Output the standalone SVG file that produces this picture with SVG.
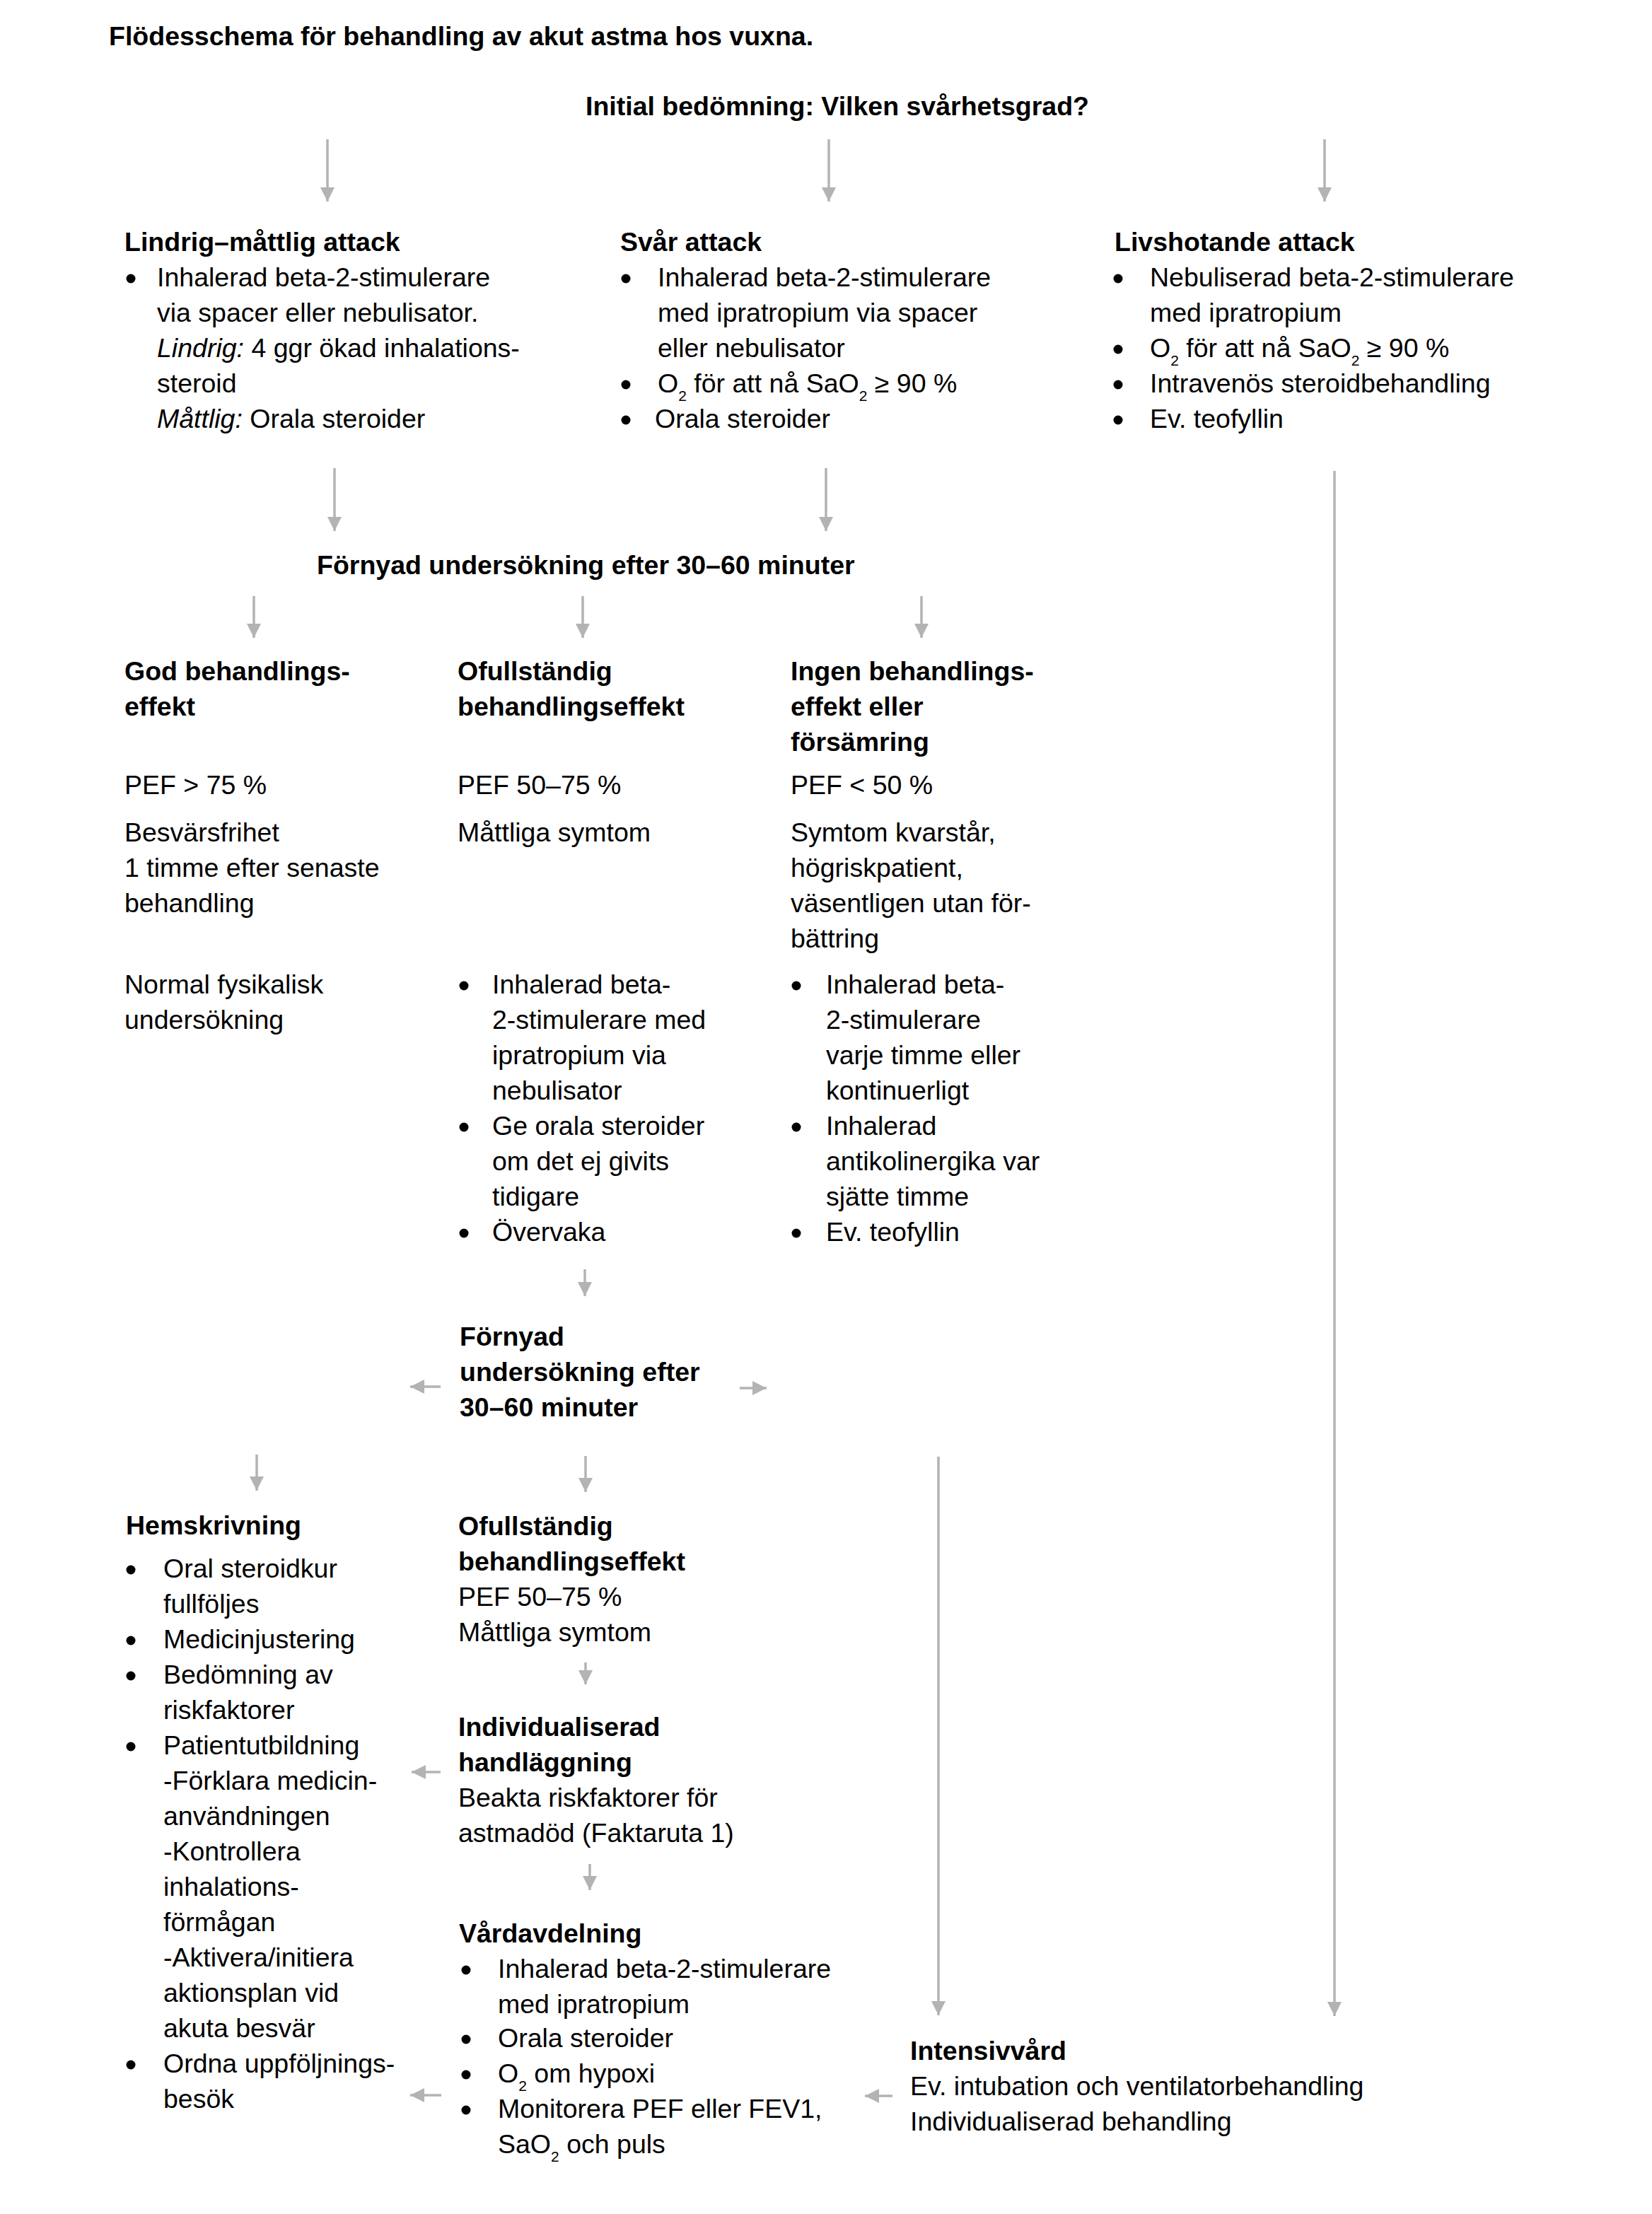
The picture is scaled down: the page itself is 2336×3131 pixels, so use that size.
<svg xmlns="http://www.w3.org/2000/svg" width="2336" height="3131" viewBox="0 0 2336 3131">
  <style>
    text { font-family: "Liberation Sans", Arial, Helvetica, sans-serif; font-size: 37.5px; fill: #000; }
    .b { font-weight: bold; }
    .i { font-style: italic; }
    .sub { font-size: 21px; }
    .dot { fill: #000; }
    .conn line { stroke: #b3b3b3; stroke-width: 3.5; fill: none; marker-end: url(#head); }
  </style>
  <defs>
    <marker id="head" markerUnits="userSpaceOnUse" markerWidth="20" markerHeight="20" refX="20" refY="10" orient="auto">
      <path d="M0,0 L20,10 L0,20 z" fill="#b3b3b3"/>
    </marker>
  </defs>
  <rect width="2336" height="3131" fill="#fff"/>

  <!-- title -->
  <text id="title" class="b" x="154" y="64">Flödesschema för behandling av akut astma hos vuxna.</text>

  <!-- start question -->
  <g id="initial">
    <text class="b" x="828" y="163">Initial bedömning: Vilken svårhetsgrad?</text>
  </g>

  <!-- severity: mild-moderate -->
  <g id="lindrig">
    <text class="b" x="176" y="355">Lindrig–måttlig attack</text>
    <circle class="dot" cx="185" cy="394" r="6.5"/>
    <text x="222" y="405">Inhalerad beta-2-stimulerare</text>
    <text x="222" y="455">via spacer eller nebulisator.</text>
    <text x="222" y="505"><tspan class="i">Lindrig:</tspan> 4 ggr ökad inhalations-</text>
    <text x="222" y="555">steroid</text>
    <text x="222" y="605"><tspan class="i">Måttlig:</tspan> Orala steroider</text>
  </g>

  <!-- severity: severe -->
  <g id="svar">
    <text class="b" x="877" y="355">Svår attack</text>
    <circle class="dot" cx="885" cy="394" r="6.5"/>
    <text x="930" y="405">Inhalerad beta-2-stimulerare</text>
    <text x="930" y="455">med ipratropium via spacer</text>
    <text x="930" y="505">eller nebulisator</text>
    <circle class="dot" cx="885" cy="544" r="6.5"/>
    <text x="930" y="555">O<tspan class="sub" dy="12">2</tspan><tspan dy="-12"> för att nå SaO</tspan><tspan class="sub" dy="12">2</tspan><tspan dy="-12"> ≥ 90 %</tspan></text>
    <circle class="dot" cx="885" cy="594" r="6.5"/>
    <text x="926" y="605">Orala steroider</text>
  </g>

  <!-- severity: life-threatening -->
  <g id="livshotande">
    <text class="b" x="1576" y="355">Livshotande attack</text>
    <circle class="dot" cx="1581" cy="394" r="6.5"/>
    <text x="1626" y="405">Nebuliserad beta-2-stimulerare</text>
    <text x="1626" y="455">med ipratropium</text>
    <circle class="dot" cx="1581" cy="494" r="6.5"/>
    <text x="1626" y="505">O<tspan class="sub" dy="12">2</tspan><tspan dy="-12"> för att nå SaO</tspan><tspan class="sub" dy="12">2</tspan><tspan dy="-12"> ≥ 90 %</tspan></text>
    <circle class="dot" cx="1581" cy="544" r="6.5"/>
    <text x="1626" y="555">Intravenös steroidbehandling</text>
    <circle class="dot" cx="1581" cy="594" r="6.5"/>
    <text x="1626" y="605">Ev. teofyllin</text>
  </g>

  <!-- reassessment -->
  <g id="fornyad1">
    <text class="b" x="448" y="812">Förnyad undersökning efter 30–60 minuter</text>
  </g>

  <!-- good response -->
  <g id="god">
    <text class="b" x="176" y="962">God behandlings-</text>
    <text class="b" x="176" y="1012">effekt</text>
    <text x="176" y="1123">PEF &gt; 75 %</text>
    <text x="176" y="1190">Besvärsfrihet</text>
    <text x="176" y="1240">1 timme efter senaste</text>
    <text x="176" y="1290">behandling</text>
    <text x="176" y="1405">Normal fysikalisk</text>
    <text x="176" y="1455">undersökning</text>
  </g>

  <!-- incomplete response -->
  <g id="ofullstandig1">
    <text class="b" x="647" y="962">Ofullständig</text>
    <text class="b" x="647" y="1012">behandlingseffekt</text>
    <text x="647" y="1123">PEF 50–75 %</text>
    <text x="647" y="1190">Måttliga symtom</text>
    <circle class="dot" cx="656" cy="1394" r="6.5"/>
    <text x="696" y="1405">Inhalerad beta-</text>
    <text x="696" y="1455">2-stimulerare med</text>
    <text x="696" y="1505">ipratropium via</text>
    <text x="696" y="1555">nebulisator</text>
    <circle class="dot" cx="656" cy="1594" r="6.5"/>
    <text x="696" y="1605">Ge orala steroider</text>
    <text x="696" y="1655">om det ej givits</text>
    <text x="696" y="1705">tidigare</text>
    <circle class="dot" cx="656" cy="1744" r="6.5"/>
    <text x="696" y="1755">Övervaka</text>
  </g>

  <!-- no response -->
  <g id="ingen">
    <text class="b" x="1118" y="962">Ingen behandlings-</text>
    <text class="b" x="1118" y="1012">effekt eller</text>
    <text class="b" x="1118" y="1062">försämring</text>
    <text x="1118" y="1123">PEF &lt; 50 %</text>
    <text x="1118" y="1190">Symtom kvarstår,</text>
    <text x="1118" y="1240">högriskpatient,</text>
    <text x="1118" y="1290">väsentligen utan för-</text>
    <text x="1118" y="1340">bättring</text>
    <circle class="dot" cx="1126" cy="1394" r="6.5"/>
    <text x="1168" y="1405">Inhalerad beta-</text>
    <text x="1168" y="1455">2-stimulerare</text>
    <text x="1168" y="1505">varje timme eller</text>
    <text x="1168" y="1555">kontinuerligt</text>
    <circle class="dot" cx="1126" cy="1594" r="6.5"/>
    <text x="1168" y="1605">Inhalerad</text>
    <text x="1168" y="1655">antikolinergika var</text>
    <text x="1168" y="1705">sjätte timme</text>
    <circle class="dot" cx="1126" cy="1744" r="6.5"/>
    <text x="1168" y="1755">Ev. teofyllin</text>
  </g>

  <!-- second reassessment -->
  <g id="fornyad2">
    <text class="b" x="650" y="1903">Förnyad</text>
    <text class="b" x="650" y="1953">undersökning efter</text>
    <text class="b" x="650" y="2003">30–60 minuter</text>
  </g>

  <!-- discharge -->
  <g id="hemskrivning">
    <text class="b" x="178" y="2170">Hemskrivning</text>
    <circle class="dot" cx="185" cy="2220" r="6.5"/>
    <text x="231" y="2231">Oral steroidkur</text>
    <text x="231" y="2281">fullföljes</text>
    <circle class="dot" cx="185" cy="2320" r="6.5"/>
    <text x="231" y="2331">Medicinjustering</text>
    <circle class="dot" cx="185" cy="2370" r="6.5"/>
    <text x="231" y="2381">Bedömning av</text>
    <text x="231" y="2431">riskfaktorer</text>
    <circle class="dot" cx="185" cy="2470" r="6.5"/>
    <text x="231" y="2481">Patientutbildning</text>
    <text x="231" y="2531">-Förklara medicin-</text>
    <text x="231" y="2581">användningen</text>
    <text x="231" y="2631">-Kontrollera</text>
    <text x="231" y="2681">inhalations-</text>
    <text x="231" y="2731">förmågan</text>
    <text x="231" y="2781">-Aktivera/initiera</text>
    <text x="231" y="2831">aktionsplan vid</text>
    <text x="231" y="2881">akuta besvär</text>
    <circle class="dot" cx="185" cy="2920" r="6.5"/>
    <text x="231" y="2931">Ordna uppföljnings-</text>
    <text x="231" y="2981">besök</text>
  </g>

  <!-- incomplete response, second time -->
  <g id="ofullstandig2">
    <text class="b" x="648" y="2171">Ofullständig</text>
    <text class="b" x="648" y="2221">behandlingseffekt</text>
    <text x="648" y="2271">PEF 50–75 %</text>
    <text x="648" y="2321">Måttliga symtom</text>
  </g>

  <!-- individual management -->
  <g id="individualiserad">
    <text class="b" x="648" y="2455">Individualiserad</text>
    <text class="b" x="648" y="2505">handläggning</text>
    <text x="648" y="2555">Beakta riskfaktorer för</text>
    <text x="648" y="2605">astmadöd (Faktaruta 1)</text>
  </g>

  <!-- ward -->
  <g id="vardavdelning">
    <text class="b" x="649" y="2747">Vårdavdelning</text>
    <circle class="dot" cx="659" cy="2786" r="6.5"/>
    <text x="704" y="2797">Inhalerad beta-2-stimulerare</text>
    <text x="704" y="2847">med ipratropium</text>
    <circle class="dot" cx="659" cy="2884" r="6.5"/>
    <text x="704" y="2895">Orala steroider</text>
    <circle class="dot" cx="659" cy="2934" r="6.5"/>
    <text x="704" y="2945">O<tspan class="sub" dy="12">2</tspan><tspan dy="-12"> om hypoxi</tspan></text>
    <circle class="dot" cx="659" cy="2984" r="6.5"/>
    <text x="704" y="2995">Monitorera PEF eller FEV1,</text>
    <text x="704" y="3045">SaO<tspan class="sub" dy="12">2</tspan><tspan dy="-12"> och puls</tspan></text>
  </g>

  <!-- intensive care -->
  <g id="intensivvard">
    <text class="b" x="1287" y="2913">Intensivvård</text>
    <text x="1287" y="2963">Ev. intubation och ventilatorbehandling</text>
    <text x="1287" y="3013">Individualiserad behandling</text>
  </g>

  <!-- connectors -->
  <g id="connectors" class="conn">
    <line x1="463" y1="197" x2="463" y2="285"/>
    <line x1="1172" y1="197" x2="1172" y2="285"/>
    <line x1="1873" y1="197" x2="1873" y2="285"/>
    <line x1="473" y1="662" x2="473" y2="751"/>
    <line x1="1168" y1="662" x2="1168" y2="751"/>
    <line x1="1887" y1="666" x2="1887" y2="2851"/>
    <line x1="359" y1="843" x2="359" y2="902"/>
    <line x1="824" y1="843" x2="824" y2="902"/>
    <line x1="1303" y1="843" x2="1303" y2="902"/>
    <line x1="827" y1="1795" x2="827" y2="1833"/>
    <line x1="623" y1="1961" x2="580" y2="1961"/>
    <line x1="1046" y1="1963" x2="1084" y2="1963"/>
    <line x1="363" y1="2057" x2="363" y2="2108"/>
    <line x1="828" y1="2059" x2="828" y2="2110"/>
    <line x1="1327" y1="2060" x2="1327" y2="2850"/>
    <line x1="828" y1="2351" x2="828" y2="2382"/>
    <line x1="623" y1="2506" x2="582" y2="2506"/>
    <line x1="834" y1="2636" x2="834" y2="2673"/>
    <line x1="624" y1="2963" x2="580" y2="2963"/>
    <line x1="1262" y1="2964" x2="1223" y2="2964"/>
  </g>
</svg>
